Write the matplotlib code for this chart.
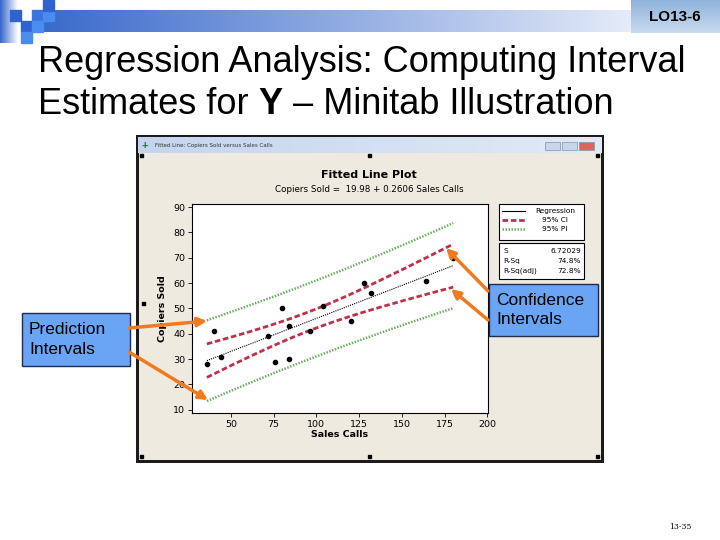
import numpy as np
import matplotlib.pyplot as plt
from matplotlib.patches import Rectangle, FancyArrowPatch
from matplotlib.colors import LinearSegmentedColormap

plt.rcParams['font.family'] = ['Liberation Sans', 'DejaVu Sans']

# data: copiers sold vs sales calls
sales_calls = [96, 40, 104, 128, 164, 76, 72, 80, 36, 84, 180, 132, 120, 44, 84]
copiers_sold = [41, 41, 51, 60, 61, 29, 39, 50, 28, 43, 70, 56, 45, 31, 30]

# fitted model as printed by Minitab
intercept = 19.98
slope = 0.2606
s_err = 6.72029
r_sq = '74.8%'
r_sq_adj = '72.8%'
t_crit = 2.160  # t(0.025, df=13)

x_ticks = [50, 75, 100, 125, 150, 175, 200]
y_ticks = [10, 20, 30, 40, 50, 60, 70, 80, 90]

W, H = 720, 540


def px(x0, y0, x1, y1):
    return [x0 / W, 1 - y1 / H, (x1 - x0) / W, (y1 - y0) / H]


def grad(ax, x0, y0, x1, y1, c0, c1, horizontal=True, zorder=1):
    cmap = LinearSegmentedColormap.from_list('g', [c0, c1])
    g = np.linspace(0, 1, 256)
    img = g[None, :] if horizontal else g[:, None]
    ax.imshow(img, cmap=cmap, extent=(x0, x1, y1, y0), aspect='auto', zorder=zorder)


fig = plt.figure(figsize=(7.2, 5.4), dpi=100)
fig.patch.set_facecolor('white')

# slide background layer (pixel coordinates)
ax0 = fig.add_axes([0, 0, 1, 1])
ax0.axis('off')

# top decoration
grad(ax0, 43, 10, 720, 32, '#3a6acb', '#ffffff')
grad(ax0, 0, 0, 18, 43, '#3566cc', '#ffffff')
for (x, y, c) in [(10, 10, '#2f63d0'), (32, 10, '#3b74de'), (43, 10, '#4a8cf0'),
                  (43, 0, '#2f63d0'), (21, 21, '#2f63d0'), (32, 21, '#4a8cf0'),
                  (21, 32, '#4a8cf0')]:
    ax0.add_patch(Rectangle((x, y), 11, 11, color=c, zorder=2))
grad(ax0, 631, 0, 720, 33, '#8fb3dc', '#c9dbef', horizontal=False, zorder=3)
ax0.text(675, 17, 'LO13-6', fontsize=11, fontweight='bold', ha='center', va='center', zorder=4)

# slide title
t1 = ax0.text(38, 62, 'Regression Analysis: Computing Interval', fontsize=26, va='center', ha='left')
t2 = ax0.text(38, 104, 'Estimates for ', fontsize=26, va='center', ha='left')
t3 = ax0.annotate('Y', xy=(1, 0), xycoords=t2, fontsize=26, fontweight='bold', va='bottom', ha='left')
ax0.annotate(' \u2013 Minitab Illustration', xy=(1, 0), xycoords=t3, fontsize=26, va='bottom', ha='left')

# Minitab window
ax0.add_patch(Rectangle((136, 135), 468, 328, facecolor='#1c1c1c', edgecolor='none', zorder=1))
grad(ax0, 138, 137, 602, 153, '#c4d5ee', '#e2eaf6', zorder=2)
ax0.add_patch(Rectangle((139, 153), 462, 307, facecolor='#eeeae0', edgecolor='none', zorder=2))
ax0.text(155, 145.5, 'Fitted Line: Copiers Sold versus Sales Calls', fontsize=4, color='#333333',
         va='center', zorder=3, family='DejaVu Sans')
ax0.text(145, 145.5, '+', fontsize=8, fontweight='bold', color='#2e7d2e', ha='center', va='center', zorder=3)
for bx, c in [(545, '#c9d6ea'), (562, '#c9d6ea'), (579, '#d9665a')]:
    ax0.add_patch(Rectangle((bx, 142), 15, 8, facecolor=c, edgecolor='#7f93b5', lw=0.5, zorder=3))
for hx, hy in [(141, 155), (369, 155), (597, 155), (141, 456), (369, 456), (597, 456), (143, 303)]:
    ax0.add_patch(Rectangle((hx - 1.5, hy - 1.5), 3, 3, color='black', zorder=4))

ax0.text(369, 175, 'Fitted Line Plot', fontsize=8, fontweight='bold', ha='center', va='center',
         family='DejaVu Sans', zorder=4)
ax0.text(369, 189, f'Copiers Sold =  {intercept:.2f} + {slope:.4f} Sales Calls', fontsize=6.3,
         ha='center', va='center', family='DejaVu Sans', zorder=4)

# legend and statistics boxes
ax0.add_patch(Rectangle((499, 204), 85, 36, facecolor='white', edgecolor='black', lw=0.8, zorder=4))
ax0.add_patch(Rectangle((499, 243), 85, 36, facecolor='white', edgecolor='black', lw=0.8, zorder=4))
ax0.plot([502, 525], [211, 211], color='black', lw=0.8, zorder=5)
ax0.plot([502, 525], [220, 220], color='#c0304a', lw=2, dashes=(2, 1), zorder=5)
ax0.plot([502, 525], [229, 229], color='#6dae63', lw=1.8, dashes=(0.6, 0.6), zorder=5)
for yy, lab in [(211, 'Regression'), (220, '95% CI'), (229, '95% PI')]:
    ax0.text(555, yy, lab, fontsize=5.3, ha='center', va='center', family='DejaVu Sans', zorder=5)
for yy, lab, val in [(251, 'S', f'{s_err:.5f}'), (261, 'R-Sq', r_sq), (271, 'R-Sq(adj)', r_sq_adj)]:
    ax0.text(503, yy, lab, fontsize=5.3, ha='left', va='center', family='DejaVu Sans', zorder=5)
    ax0.text(581, yy, val, fontsize=5.3, ha='right', va='center', family='DejaVu Sans', zorder=5)

ax0.text(680, 527, '13-35', fontsize=5.5, family='DejaVu Serif', ha='center', va='center')

ax0.set_xlim(0, W)
ax0.set_ylim(H, 0)

# fitted line plot
ax = fig.add_axes(px(192, 204, 488, 413), zorder=2)
xs = np.linspace(min(sales_calls), max(sales_calls), 200)
n = len(sales_calls)
xbar = np.mean(sales_calls)
sxx = np.sum((np.array(sales_calls) - xbar) ** 2)
yhat = intercept + slope * xs
ci = t_crit * s_err * np.sqrt(1 / n + (xs - xbar) ** 2 / sxx)
pi = t_crit * s_err * np.sqrt(1 + 1 / n + (xs - xbar) ** 2 / sxx)

ax.plot(xs, yhat, color='black', lw=0.8, linestyle=(0, (1, 1)))
ax.plot(xs, yhat + ci, color='#c0304a', lw=2, dashes=(2, 1))
ax.plot(xs, yhat - ci, color='#c0304a', lw=2, dashes=(2, 1))
ax.plot(xs, yhat + pi, color='#6dae63', lw=1.8, dashes=(0.6, 0.6))
ax.plot(xs, yhat - pi, color='#6dae63', lw=1.8, dashes=(0.6, 0.6))
ax.scatter(sales_calls, copiers_sold, s=9, color='black', zorder=3)

ax.set_xlim(27.3, 200.3)
ax.set_ylim(8.7, 91.2)
ax.set_xticks(x_ticks)
ax.set_yticks(y_ticks)
ax.tick_params(direction='out', length=3, width=0.6, labelsize=6.8, pad=2)
for lab in ax.get_xticklabels() + ax.get_yticklabels():
    lab.set_family('DejaVu Sans')
ax.set_xlabel('Sales Calls', fontsize=6.8, fontweight='bold', family='DejaVu Sans', labelpad=1)
ax.set_ylabel('Copiers Sold', fontsize=6.8, fontweight='bold', family='DejaVu Sans', labelpad=4)
for sp in ax.spines.values():
    sp.set_linewidth(0.8)

# callouts overlay
ax1 = fig.add_axes([0, 0, 1, 1], zorder=5)
ax1.axis('off')
ax1.patch.set_alpha(0)
ax1.set_xlim(0, W)
ax1.set_ylim(H, 0)
for (x0, y0, w, h, txt) in [(489, 284, 109, 52, 'Confidence\nIntervals'),
                            (22, 313, 108, 53, 'Prediction\nIntervals')]:
    ax1.add_patch(Rectangle((x0, y0), w, h, facecolor='#6aa5f5', edgecolor='#1f2a55', lw=1))
    ax1.text(x0 + 7, y0 + h / 2, txt, fontsize=12.5, ha='left', va='center', linespacing=1.35)
for (a, b) in [((488, 291), (446, 248)), ((488, 320), (451, 289)),
               ((129, 328), (207, 321)), ((129, 352), (208, 400))]:
    ax1.add_patch(FancyArrowPatch(a, b, arrowstyle='-|>', mutation_scale=13, lw=2.5,
                                  color='#f07a20', shrinkA=0, shrinkB=0))

plt.savefig('out.png', dpi=100)
